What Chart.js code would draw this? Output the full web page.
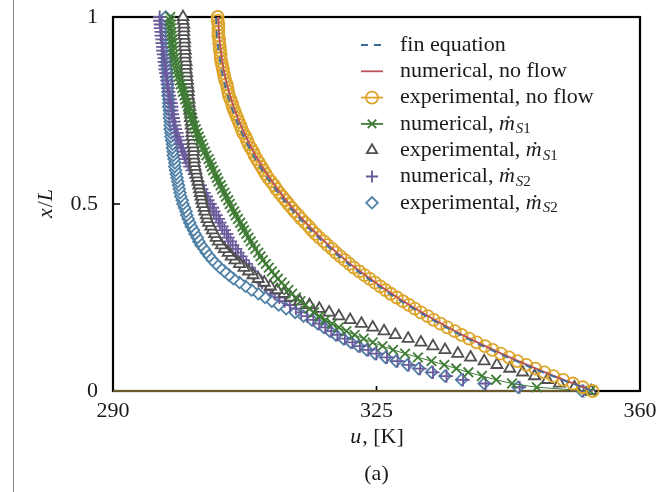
<!DOCTYPE html>
<html>
<head>
<meta charset="utf-8">
<script src="https://cdn.jsdelivr.net/npm/chart.js@4.4.7/dist/chart.umd.min.js"></script>
<style>
  html, body { margin: 0; padding: 0; background: #fff; }
  #wrap { position: relative; width: 658px; height: 492px; }
</style>
</head>
<body>
<div id="wrap"><canvas id="fig" width="658" height="492"></canvas></div>
<script>
// position along the fin, x/L, for the measured / simulated profiles
const positions = [
  0.00, 0.01, 0.02, 0.03, 0.04, 0.05, 0.06, 0.07, 0.08, 0.09,
  0.10, 0.11, 0.12, 0.13, 0.14, 0.15, 0.16, 0.17, 0.18, 0.19,
  0.20, 0.21, 0.22, 0.23, 0.24, 0.25, 0.26, 0.27, 0.28, 0.29,
  0.30, 0.31, 0.32, 0.33, 0.34, 0.35, 0.36, 0.37, 0.38, 0.39,
  0.40, 0.41, 0.42, 0.43, 0.44, 0.45, 0.46, 0.47, 0.48, 0.49,
  0.50, 0.51, 0.52, 0.53, 0.54, 0.55, 0.56, 0.57, 0.58, 0.59,
  0.60, 0.61, 0.62, 0.63, 0.64, 0.65, 0.66, 0.67, 0.68, 0.69,
  0.70, 0.71, 0.72, 0.73, 0.74, 0.75, 0.76, 0.77, 0.78, 0.79,
  0.80, 0.81, 0.82, 0.83, 0.84, 0.85, 0.86, 0.87, 0.88, 0.89,
  0.90, 0.91, 0.92, 0.93, 0.94, 0.95, 0.96, 0.97, 0.98, 0.99,
  1.00
];

// coarser positions for the two smooth no-flow curves
const linePositions = [
  0.00, 0.05, 0.10, 0.15, 0.20, 0.25, 0.30, 0.35, 0.40, 0.45,
  0.50, 0.55, 0.60, 0.65, 0.70, 0.75, 0.80, 0.85, 0.90, 0.95, 1.00
];

// temperatures u [K]
const finEquation = [
  353.7, 347.1, 341.3, 336.1, 331.6, 327.5, 323.9, 320.6, 317.8, 315.3,
  313.1, 311.2, 309.5, 308.1, 306.9, 305.9, 305.1, 304.5, 304.1, 303.8, 303.7
];

const numNoFlow = [
  353.7, 347.4, 341.6, 336.4, 331.9, 327.8, 324.2, 320.9, 318.1, 315.6,
  313.4, 311.5, 309.8, 308.4, 307.2, 306.2, 305.4, 304.8, 304.4, 304.1, 304.0
];

const expNoFlow = [
  353.7, 352.4, 351.1, 349.8, 348.5, 347.3, 346.1, 344.9, 343.7, 342.6,
  341.5, 340.4, 339.4, 338.3, 337.3, 336.3, 335.4, 334.4, 333.5, 332.6,
  331.8, 330.9, 330.1, 329.3, 328.5, 327.7, 326.9, 326.2, 325.5, 324.8,
  324.1, 323.4, 322.7, 322.0, 321.4, 320.8, 320.2, 319.6, 319.1, 318.5,
  318.0, 317.4, 316.9, 316.4, 316.0, 315.5, 315.0, 314.6, 314.1, 313.7,
  313.3, 312.9, 312.5, 312.1, 311.7, 311.4, 311.0, 310.6, 310.3, 310.0,
  309.7, 309.4, 309.1, 308.8, 308.6, 308.3, 308.0, 307.8, 307.6, 307.3,
  307.1, 306.9, 306.7, 306.5, 306.3, 306.1, 305.9, 305.8, 305.6, 305.4,
  305.3, 305.2, 305.1, 304.9, 304.8, 304.7, 304.6, 304.5, 304.4, 304.3,
  304.3, 304.2, 304.2, 304.1, 304.1, 304.0, 304.0, 304.0, 304.0, 303.9,
  303.9
];

const numFlow1 = [
  353.4, 346.3, 343.0, 340.9, 339.0, 337.2, 335.6, 334.0, 332.3, 330.5,
  328.8, 327.2, 325.8, 324.5, 323.3, 322.1, 321.0, 320.0, 319.1, 318.2,
  317.4, 316.7, 316.1, 315.5, 314.9, 314.3, 313.8, 313.3, 312.8, 312.4,
  311.9, 311.5, 311.1, 310.7, 310.3, 309.9, 309.6, 309.3, 308.9, 308.6,
  308.3, 308.0, 307.7, 307.4, 307.2, 306.9, 306.6, 306.3, 306.1, 305.8,
  305.5, 305.3, 305.0, 304.8, 304.5, 304.3, 304.0, 303.8, 303.6, 303.3,
  303.1, 302.9, 302.7, 302.4, 302.2, 302.0, 301.8, 301.6, 301.4, 301.2,
  301.0, 300.8, 300.6, 300.5, 300.3, 300.1, 300.0, 299.8, 299.6, 299.5,
  299.3, 299.2, 299.0, 298.9, 298.7, 298.6, 298.5, 298.4, 298.3, 298.2,
  298.1, 298.0, 298.0, 297.9, 297.9, 297.8, 297.8, 297.7, 297.7, 297.6,
  297.6
];

const expFlow1 = [
  353.5, 351.3, 349.3, 347.7, 346.0, 344.4, 342.7, 341.0, 339.3, 337.5,
  335.8, 334.1, 332.5, 330.9, 329.2, 327.5, 326.0, 324.5, 323.0, 321.5,
  320.0, 318.7, 317.4, 316.1, 314.8, 313.6, 312.7, 311.8, 310.9, 310.1,
  309.3, 308.6, 308.0, 307.4, 306.8, 306.2, 305.7, 305.3, 304.8, 304.4,
  304.0, 303.7, 303.5, 303.2, 303.0, 302.7, 302.5, 302.4, 302.2, 302.1,
  301.9, 301.8, 301.7, 301.6, 301.5, 301.4, 301.3, 301.2, 301.1, 301.0,
  300.9, 300.8, 300.8, 300.7, 300.7, 300.7, 300.6, 300.6, 300.5, 300.5,
  300.5, 300.4, 300.4, 300.3, 300.3, 300.2, 300.2, 300.1, 300.1, 300.0,
  300.0, 300.0, 299.9, 299.9, 299.8, 299.8, 299.7, 299.7, 299.7, 299.6,
  299.6, 299.6, 299.5, 299.5, 299.5, 299.4, 299.4, 299.4, 299.4, 299.3,
  299.3
];

const numFlow2 = [
  352.5, 344.0, 339.5, 336.5, 334.3, 332.5, 330.8, 329.3, 327.8, 326.4,
  325.0, 323.9, 322.8, 321.8, 320.8, 319.8, 319.0, 318.2, 317.4, 316.6,
  315.8, 315.0, 314.3, 313.5, 312.8, 312.1, 311.5, 310.9, 310.4, 309.8,
  309.3, 308.9, 308.5, 308.1, 307.7, 307.3, 307.0, 306.6, 306.3, 305.9,
  305.6, 305.3, 305.1, 304.8, 304.5, 304.2, 304.0, 303.7, 303.4, 303.2,
  302.9, 302.6, 302.4, 302.1, 301.8, 301.6, 301.3, 301.0, 300.8, 300.5,
  300.2, 300.0, 299.7, 299.5, 299.3, 299.1, 299.0, 298.8, 298.6, 298.5,
  298.3, 298.2, 298.1, 298.0, 297.9, 297.8, 297.8, 297.7, 297.6, 297.5,
  297.4, 297.3, 297.2, 297.2, 297.1, 297.0, 296.9, 296.9, 296.8, 296.8,
  296.7, 296.6, 296.6, 296.5, 296.5, 296.4, 296.4, 296.3, 296.3, 296.2,
  296.2
];

const expFlow2 = [
  352.3, 343.8, 339.3, 336.3, 334.1, 332.3, 330.6, 329.1, 327.6, 326.2,
  324.8, 323.7, 322.6, 321.6, 320.6, 319.6, 318.8, 318.0, 317.2, 316.4,
  315.3, 314.2, 313.0, 312.0, 311.1, 310.2, 309.3, 308.4, 307.6, 306.8,
  306.0, 305.4, 304.8, 304.2, 303.7, 303.2, 302.8, 302.4, 302.1, 301.7,
  301.4, 301.2, 300.9, 300.7, 300.4, 300.2, 300.0, 299.8, 299.7, 299.5,
  299.3, 299.2, 299.0, 298.9, 298.8, 298.7, 298.6, 298.5, 298.4, 298.3,
  298.2, 298.2, 298.1, 298.0, 298.0, 297.9, 297.9, 297.8, 297.7, 297.7,
  297.6, 297.6, 297.6, 297.5, 297.5, 297.5, 297.4, 297.4, 297.4, 297.3,
  297.3, 297.3, 297.3, 297.2, 297.2, 297.2, 297.2, 297.1, 297.1, 297.1,
  297.1, 297.1, 297.1, 297.1, 297.0, 297.0, 297.0, 297.0, 297.0, 297.0,
  297.0
];

const uTicks = [290, 325, 360];
const xTicks = [0, 0.5, 1];

// legend entries; parts with sub are set as subscripts, it = italic
const legendNames = [
  [{ t: 'fin equation' }],
  [{ t: 'numerical, no flow' }],
  [{ t: 'experimental, no flow' }],
  [{ t: 'numerical, ' }, { t: 'ṁ', it: 1 }, { t: 'S', it: 1, sub: 1 }, { t: '1', sub: 1 }],
  [{ t: 'experimental, ' }, { t: 'ṁ', it: 1 }, { t: 'S', it: 1, sub: 1 }, { t: '1', sub: 1 }],
  [{ t: 'numerical, ' }, { t: 'ṁ', it: 1 }, { t: 'S', it: 1, sub: 1 }, { t: '2', sub: 1 }],
  [{ t: 'experimental, ' }, { t: 'ṁ', it: 1 }, { t: 'S', it: 1, sub: 1 }, { t: '2', sub: 1 }]
];

const SERIF = '"Liberation Serif", "DejaVu Serif", serif';
const FS = 22;
const pts = (us, xs) => us.map((u, i) => ({ x: u, y: xs[i] }));

function drawRuns(ctx, runs, x, y, size) {
  for (const r of runs) {
    const s = r.sub ? Math.round(size * 0.7) : size;
    ctx.font = (r.it ? 'italic ' : '') + s + 'px ' + SERIF;
    ctx.fillText(r.t, x, y + (r.sub ? size * 0.25 : 0));
    x += ctx.measureText(r.t).width + (r.it && !r.sub ? 1 : 0);
  }
  return x;
}

function runsWidth(ctx, runs, size) {
  let w = 0;
  for (const r of runs) {
    ctx.font = (r.it ? 'italic ' : '') + size + 'px ' + SERIF;
    w += ctx.measureText(r.t).width;
  }
  return w;
}

const figure = {
  id: 'figure',
  beforeDatasetsDraw(chart) {
    const { ctx, chartArea: a, scales } = chart;
    ctx.save();
    // thin rule at the left page margin
    ctx.strokeStyle = '#8a8a8a';
    ctx.lineWidth = 1;
    ctx.beginPath();
    ctx.moveTo(13.5, 0);
    ctx.lineTo(13.5, chart.height);
    ctx.stroke();
    // plot frame
    ctx.strokeStyle = '#000';
    ctx.lineWidth = 2.2;
    ctx.strokeRect(a.left, a.top, a.right - a.left, a.bottom - a.top);
    // inward tick marks at the middle ticks
    ctx.lineWidth = 1.6;
    ctx.beginPath();
    const xm = scales.x.getPixelForValue(uTicks[1]);
    ctx.moveTo(xm, a.bottom);
    ctx.lineTo(xm, a.bottom - 5);
    const ym = scales.y.getPixelForValue(xTicks[1]);
    ctx.moveTo(a.left, ym);
    ctx.lineTo(a.left + 7, ym);
    ctx.stroke();
    ctx.restore();
  },
  afterDraw(chart) {
    const { ctx, chartArea: a } = chart;
    const cx = (a.left + a.right) / 2;
    ctx.save();
    ctx.fillStyle = '#1a1a1a';
    ctx.textBaseline = 'middle';
    ctx.textAlign = 'left';

    // axis titles and caption
    let runs = [{ t: 'u', it: 1 }, { t: ', [K]' }];
    drawRuns(ctx, runs, cx - runsWidth(ctx, runs, FS) / 2, 437, FS);

    ctx.font = FS + 'px ' + SERIF;
    ctx.textAlign = 'center';
    ctx.fillText('(a)', cx, 474);
    ctx.textAlign = 'left';

    ctx.save();
    ctx.translate(46, (a.top + a.bottom) / 2);
    ctx.rotate(-Math.PI / 2);
    runs = [{ t: 'x', it: 1 }, { t: '/' }, { t: 'L', it: 1 }];
    drawRuns(ctx, runs, -runsWidth(ctx, runs, FS) / 2, 0, FS);
    ctx.restore();

    // legend
    const rowY = 45, rowH = 26.3, iconX = 372, textX = 400;
    chart.data.datasets.forEach((ds, i) => {
      if (i >= legendNames.length) return;
      const y = rowY + i * rowH;
      ctx.save();
      if (ds.showLine) {
        ctx.strokeStyle = ds.borderColor;
        ctx.lineWidth = Math.max(ds.borderWidth, 1.8);
        ctx.setLineDash(ds.borderDash || []);
        ctx.beginPath();
        ctx.moveTo(iconX - 11, y);
        ctx.lineTo(iconX + 11, y);
        ctx.stroke();
        ctx.setLineDash([]);
      }
      if (ds.pointRadius > 0) {
        ctx.strokeStyle = ds.pointBorderColor;
        ctx.fillStyle = ds.pointBackgroundColor;
        ctx.lineWidth = ds.pointBorderWidth;
        Chart.helpers.drawPoint(ctx, {
          pointStyle: ds.pointStyle, radius: Math.min(ds.pointRadius, 6),
          borderWidth: ds.pointBorderWidth, rotation: 0
        }, iconX, y);
      }
      ctx.restore();
      ctx.fillStyle = '#1a1a1a';
      drawRuns(ctx, legendNames[i], textX, y, FS);
    });
    ctx.restore();
  }
};

const markerSet = (color, style, radius, fill) => ({
  pointStyle: style,
  pointRadius: radius,
  pointHoverRadius: radius,
  pointBorderColor: color,
  pointBackgroundColor: fill,
  pointBorderWidth: 1.8
});

new Chart(document.getElementById('fig'), {
  type: 'scatter',
  data: {
    datasets: [
      {
        label: 'fin equation',
        data: pts(finEquation, linePositions),
        showLine: true, borderColor: '#3f6e9e', borderWidth: 1.8,
        borderDash: [7, 6], tension: 0.4, pointRadius: 0, clip: false
      },
      {
        label: 'numerical, no flow',
        data: pts(numNoFlow, linePositions),
        showLine: true, borderColor: '#b9535a', borderWidth: 1.8,
        tension: 0.4, pointRadius: 0, clip: false
      },
      {
        label: 'experimental, no flow',
        data: pts(expNoFlow, positions),
        showLine: true, borderColor: '#dca52a', borderWidth: 1,
        ...markerSet('#dca52a', 'circle', 6, 'rgba(255,255,255,0)'), clip: false
      },
      {
        label: 'numerical, ms1',
        data: pts(numFlow1, positions),
        showLine: true, borderColor: '#3e7b34', borderWidth: 1,
        ...markerSet('#3e7b34', 'crossRot', 6.8, '#3e7b34'), clip: false
      },
      {
        label: 'experimental, ms1',
        data: pts(expFlow1, positions),
        showLine: false,
        ...markerSet('#505050', 'triangle', 6.4, '#ffffff'), clip: false
      },
      {
        label: 'numerical, ms2',
        data: pts(numFlow2, positions),
        showLine: false,
        ...markerSet('#6a5a9c', 'cross', 6.6, '#6a5a9c'), clip: false
      },
      {
        label: 'experimental, ms2',
        data: pts(expFlow2, positions),
        showLine: false,
        ...markerSet('#4f80a6', 'rectRot', 5.8, '#ffffff'), clip: false
      },
      {
        // base line of the fin along x/L = 0
        label: 'base',
        data: [{ x: uTicks[0], y: xTicks[0] }, { x: expNoFlow[0], y: xTicks[0] }],
        showLine: true, borderColor: '#6b5a2c', borderWidth: 2.2,
        pointRadius: 0, clip: false
      }
    ]
  },
  options: {
    responsive: false,
    animation: false,
    layout: { padding: { left: 0, right: 18, top: 17, bottom: 0 } },
    plugins: { legend: { display: false }, tooltip: { enabled: false } },
    scales: {
      x: {
        type: 'linear', min: uTicks[0], max: uTicks[uTicks.length - 1],
        afterBuildTicks: s => { s.ticks = uTicks.map(v => ({ value: v })); },
        afterFit: s => { s.height = 101; s.paddingLeft = 0; s.paddingRight = 0; },
        grid: { display: false, drawTicks: false },
        border: { display: false },
        ticks: {
          padding: 7, color: '#1a1a1a', maxRotation: 0, autoSkip: false,
          font: { family: SERIF, size: FS }
        }
      },
      y: {
        type: 'linear', min: xTicks[0], max: xTicks[xTicks.length - 1],
        afterBuildTicks: s => { s.ticks = xTicks.map(v => ({ value: v })); },
        afterFit: s => { s.width = 113; s.paddingTop = 0; s.paddingBottom = 0; },
        grid: { display: false, drawTicks: false },
        border: { display: false },
        ticks: {
          padding: 15, color: '#1a1a1a', autoSkip: false,
          font: { family: SERIF, size: FS },
          callback: v => String(v)
        }
      }
    }
  },
  plugins: [figure]
});
</script>
</body>
</html>
